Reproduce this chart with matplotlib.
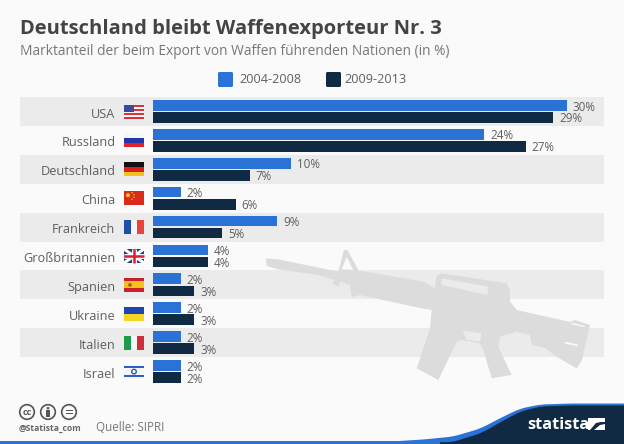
import matplotlib
matplotlib.use('Agg')
import matplotlib.pyplot as plt
from matplotlib.patches import Polygon, Rectangle, Circle, FancyBboxPatch
import numpy as np

plt.rcParams['font.family'] = ['Open Sans', 'DejaVu Sans']

# data
countries = ["USA", "Russland", "Deutschland", "China", "Frankreich",
             "Großbritannien", "Spanien", "Ukraine", "Italien", "Israel"]
share_2004_2008 = [30, 24, 10, 2, 9, 4, 2, 2, 2, 2]
share_2009_2013 = [29, 27, 7, 6, 5, 4, 3, 3, 3, 2]
period_labels = ["2004-2008", "2009-2013"]

BLUE = "#2a72d6"
DARK = "#0f2a42"
BG = "#fafafa"
BAND = "#ebebeb"
GUN = "#dcdcdc"
GREY = "#5f5f5f"
ROW = 28.9

W, H = 624, 444
fig = plt.figure(figsize=(W / 100, H / 100), dpi=100, facecolor=BG)

# overlay in pixel coords for all the decoration (flags, gun, footer)
deco = fig.add_axes([0, 0, 1, 1], zorder=0)
deco.set_xlim(0, W)
deco.set_ylim(H, 0)
deco.axis("off")

# bar axes, spans the grey bands 20..604 px wide
ax = fig.add_axes([20 / W, 1 - (97 + 10 * ROW) / H, 584 / W, 10 * ROW / H], zorder=2)
ax.patch.set_alpha(0)
px_per_pct = 13.8
ax.set_xlim(-133 / px_per_pct, 451 / px_per_pct)
ax.set_ylim(len(countries) - 0.5, -0.5)
ax.axis("off")

y = np.arange(len(countries))
h = 0.37
for i in y[::2]:
    deco.add_patch(Rectangle((20, 97 + i * ROW), 584, ROW, color=BAND, lw=0, zorder=1))

ax.barh(y - 0.21, share_2004_2008, height=h, color=BLUE)
ax.barh(y + 0.21, share_2009_2013, height=h, color=DARK)
for i, name in enumerate(countries):
    ax.text(-2.72, i + 0.21, name, ha="right", va="baseline", fontsize=9.2, color=GREY)
    ax.text(share_2004_2008[i] + 0.42, i - 0.03, f"{share_2004_2008[i]}%", va="baseline", fontsize=8.4, color=GREY)
    ax.text(share_2009_2013[i] + 0.42, i + 0.38, f"{share_2009_2013[i]}%", va="baseline", fontsize=8.4, color=GREY)


# flags
def stripes(x, y0, colors, w=20, hh=14, vertical=False):
    n = len(colors)
    for k, c in enumerate(colors):
        if vertical:
            deco.add_patch(Rectangle((x + k * w / n, y0), w / n, hh, color=c, lw=0, zorder=3))
        else:
            deco.add_patch(Rectangle((x, y0 + k * hh / n), w, hh / n, color=c, lw=0, zorder=3))


fx = 124
fy = [97 + i * ROW + 7.5 for i in range(10)]
stripes(fx, fy[0], ["#d8343a", "#f4f4f4"] * 3 + ["#d8343a"])
deco.add_patch(Rectangle((fx, fy[0]), 10, 7, color="#3b4a9c", lw=0, zorder=4))
stripes(fx, fy[1], ["#f6f6f6", "#2436a8", "#e0222c"])
stripes(fx, fy[2], ["#111111", "#d81f1f", "#f3c21c"])
stripes(fx, fy[3], ["#d92a1c"])
deco.add_patch(Circle((fx + 4, fy[3] + 4), 2, color="#f6d21c", lw=0, zorder=4))
for sx, sy in [(8, 1.5), (10, 3.5), (10, 6), (8, 8)]:
    deco.add_patch(Circle((fx + sx, fy[3] + sy), 0.7, color="#f6d21c", lw=0, zorder=4))
stripes(fx, fy[4], ["#1d4fa8", "#f6f6f6", "#e8443c"], vertical=True)
stripes(fx, fy[5], ["#2b3a80"])
deco.plot([fx, fx + 20], [fy[5], fy[5] + 14], color="white", lw=2.2, zorder=4, solid_capstyle="butt")
deco.plot([fx, fx + 20], [fy[5] + 14, fy[5]], color="white", lw=2.2, zorder=4, solid_capstyle="butt")
deco.plot([fx + 10, fx + 10], [fy[5], fy[5] + 14], color="white", lw=3.5, zorder=4, solid_capstyle="butt")
deco.plot([fx, fx + 20], [fy[5] + 7, fy[5] + 7], color="white", lw=3.5, zorder=4, solid_capstyle="butt")
deco.plot([fx + 10, fx + 10], [fy[5], fy[5] + 14], color="#d82030", lw=1.8, zorder=5, solid_capstyle="butt")
deco.plot([fx, fx + 20], [fy[5] + 7, fy[5] + 7], color="#d82030", lw=1.8, zorder=5, solid_capstyle="butt")
stripes(fx, fy[6], ["#c8202c", "#f4c01c", "#f4c01c", "#c8202c"])
deco.add_patch(Circle((fx + 6, fy[6] + 7), 1.8, color="#b0501c", lw=0, zorder=4))
stripes(fx, fy[7], ["#1f45b0", "#f6d625"])
stripes(fx, fy[8], ["#1f9a4a", "#f6f6f6", "#cf2f3a"], vertical=True)
stripes(fx, fy[9], ["#f6f6f6"])
deco.add_patch(Rectangle((fx, fy[9] + 1.5), 20, 2, color="#2f5fc0", lw=0, zorder=4))
deco.add_patch(Rectangle((fx, fy[9] + 10.5), 20, 2, color="#2f5fc0", lw=0, zorder=4))
deco.add_patch(Circle((fx + 10, fy[9] + 7), 2.3, fill=False, ec="#2f5fc0", lw=1, zorder=4))

gun_crop = [(48, 55), (85, 58), (265, 95), (282, 30), (292, 30), (328, 95), (335, 93), (520, 125),
            (555, 145), (560, 108), (575, 100), (770, 130), (780, 150), (780, 185), (800, 210),
            (960, 246), (975, 240), (1020, 255), (996, 360), (980, 385), (920, 350),
            (885, 324), (846, 315), (840, 285), (800, 275), (750, 290), (745, 320), (785, 405), (725, 415),
            (700, 330), (690, 310), (635, 300), (620, 305), (565, 420), (500, 385), (540, 265),
            (545, 210), (515, 205), (330, 165), (310, 170), (305, 170), (300, 135), (270, 125),
            (265, 140), (245, 130), (255, 120), (205, 105), (85, 88), (50, 78)]


def crop(points):
    return [(px / 3 + 250, py / 3 + 240) for px, py in points]


deco.add_patch(Polygon(crop(gun_crop), closed=True, color=GUN, lw=0, zorder=2))
deco.add_patch(Polygon(crop([(575, 115), (715, 140), (712, 165), (575, 135)]), closed=True, color=BAND, lw=0, zorder=2))
deco.add_patch(Polygon(crop([(638, 272), (695, 280), (690, 305), (650, 300)]), closed=True, color=BAND, lw=0, zorder=2))
deco.add_patch(Polygon(crop([(275, 88), (290, 50), (310, 90)]), closed=True, color=BG, lw=0, zorder=2))
deco.add_patch(Polygon(crop([(965, 248), (1005, 258), (1003, 262), (963, 252)]), closed=True, color=BG, lw=0, zorder=2))
deco.add_patch(Polygon(crop([(945, 305), (985, 314), (983, 319), (943, 310)]), closed=True, color=BG, lw=0, zorder=2))

# header
deco.text(20, 34, "Deutschland bleibt Waffenexporteur Nr. 3", fontsize=14.5, fontweight="bold", color="#444444", va="baseline")
deco.text(20, 55, "Marktanteil der beim Export von Waffen führenden Nationen (in %)", fontsize=9.87, color="#777777", va="baseline")

# legend
for lx, tx, c, lab in [(218, 239, BLUE, period_labels[0]), (326, 344, DARK, period_labels[1])]:
    deco.add_patch(FancyBboxPatch((lx, 72), 15, 15, boxstyle="round,pad=0,rounding_size=1.5", color=c, lw=0, zorder=3))
    deco.text(tx, 79.5, lab, fontsize=9.1, color=GREY, va="center")

# footer wave
xw = np.arange(380, 625)
top = np.interp(xw, [380, 390, 423, 453, 480, 503, 520, 540, 570, 624], [441.5, 441, 439, 436, 428, 416, 408, 404, 403, 403])
low = np.interp(xw, [380, 453, 463, 480, 503, 520, 540, 570, 624], [442, 441.6, 438, 433, 420, 411, 406, 405, 405])
smooth = np.ones(15) / 15
top[7:-7] = np.convolve(top, smooth, mode="valid")
low[7:-7] = np.convolve(low, smooth, mode="valid")
deco.fill_between(xw, top, 444, color=BLUE, lw=0, zorder=3)
deco.fill_between(xw, low, 444, color=DARK, lw=0, zorder=4)
deco.add_patch(Rectangle((0, 441.3), 440, 2.7, color=BLUE, lw=0, zorder=5))
deco.text(527, 429, "statista", fontsize=11.8, fontweight="bold", color="white", va="baseline", zorder=6)
deco.add_patch(Rectangle((588, 418), 17, 12, color="white", lw=0, zorder=6))
deco.add_patch(Polygon([(590, 430), (596, 423), (601, 422), (605, 422), (605, 424), (600, 425), (594, 430)], closed=True, color=DARK, lw=0, zorder=7))

# licence icons
ICON = "#555555"
for cx in [27, 48, 69]:
    deco.add_patch(Circle((cx, 412), 7.3, fill=False, ec=ICON, lw=1.2, zorder=3))
deco.text(27, 412, "cc", fontsize=6.5, fontweight="bold", color=ICON, ha="center", va="center")
deco.add_patch(Circle((48, 408.2), 1.3, color=ICON, lw=0, zorder=3))
deco.add_patch(Rectangle((46.3, 410), 3.4, 7, color=ICON, lw=0, zorder=3))
deco.add_patch(Rectangle((65.5, 409.8), 7, 1.4, color=ICON, lw=0, zorder=3))
deco.add_patch(Rectangle((65.5, 413), 7, 1.4, color=ICON, lw=0, zorder=3))
deco.text(19, 431, "@Statista_com", fontsize=6.2, fontweight="bold", color="#666666", va="baseline")
deco.text(96, 431, "Quelle: SIPRI", fontsize=8.4, color="#777777", va="baseline")

fig.savefig("out.png", dpi=100, facecolor=BG)
